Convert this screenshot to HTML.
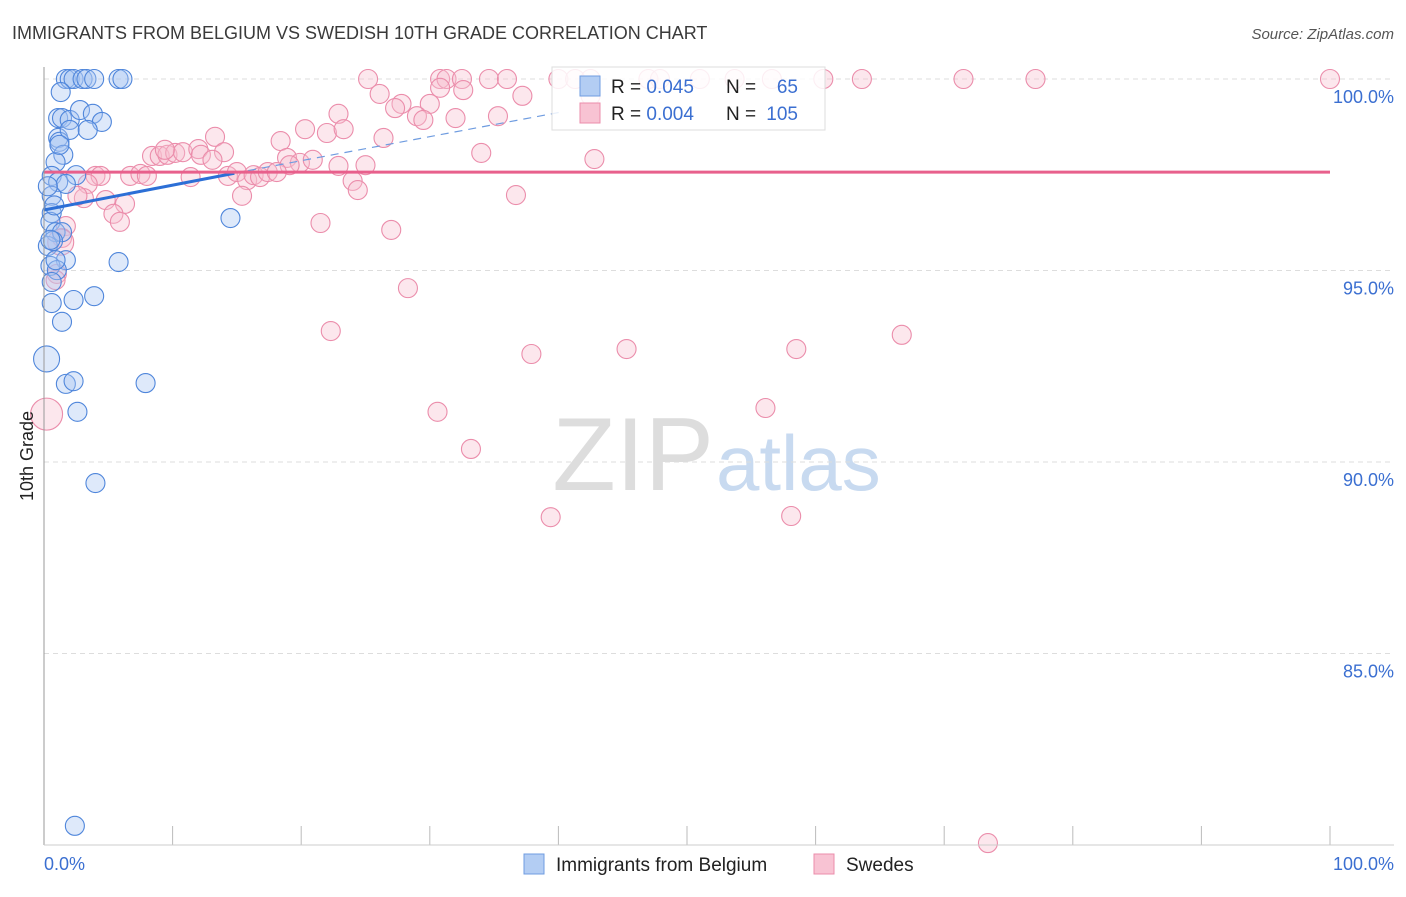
<!DOCTYPE html>
<html><head><meta charset="utf-8"><style>
body{margin:0;background:#fff;font-family:"Liberation Sans",sans-serif}
svg text{font-family:"Liberation Sans",sans-serif}
</style></head><body>
<svg id="chart" width="1406" height="892" viewBox="0 0 1406 892" xmlns="http://www.w3.org/2000/svg">
<text x="12" y="39" font-size="18" fill="#3a3a3a">IMMIGRANTS FROM BELGIUM VS SWEDISH 10TH GRADE CORRELATION CHART</text>
<text x="1394" y="39" font-size="15" fill="#555" text-anchor="end" font-style="italic">Source: ZipAtlas.com</text>
<text x="714" y="490" font-size="104" text-anchor="end" fill="#ddd" font-family="Liberation Serif">ZIP</text>
<text x="716" y="490" font-size="78" fill="#c8daf0">atlas</text>
<g id="grid"></g>
<g id="marks"></g>
<line x1="44" y1="67" x2="44" y2="845" stroke="#999"/>
<line x1="44" y1="845" x2="1394" y2="845" stroke="#ccc"/>
<text transform="translate(33,456) rotate(-90)" font-size="18" fill="#222" text-anchor="middle">10th Grade</text>
<text x="44" y="870" font-size="18" fill="#3b6fd1">0.0%</text>
<text x="1394" y="870" font-size="18" fill="#3b6fd1" text-anchor="end">100.0%</text>
<g>
<rect x="552" y="67" width="273" height="63" fill="#fff" fill-opacity="0.85" stroke="#ddd"/>
<rect x="580" y="76" width="20" height="20" fill="#b3cdf3" stroke="#6f9ce0"/>
<rect x="580" y="103" width="20" height="20" fill="#f8c3d3" stroke="#eb8dab"/>
<text x="611" y="93" font-size="19" fill="#222">R = <tspan fill="#3b6fd1">0.045</tspan></text>
<text x="726" y="93" font-size="19" fill="#222">N = </text><text x="798" y="93" font-size="19" fill="#3b6fd1" text-anchor="end">65</text>
<text x="611" y="120" font-size="19" fill="#222">R = <tspan fill="#3b6fd1">0.004</tspan></text>
<text x="726" y="120" font-size="19" fill="#222">N = </text><text x="798" y="120" font-size="19" fill="#3b6fd1" text-anchor="end">105</text>
</g>
<g>
<rect x="524" y="854" width="20" height="20" fill="#b3cdf3" stroke="#6f9ce0"/>
<text x="556" y="871" font-size="19" fill="#222">Immigrants from Belgium</text>
<rect x="814" y="854" width="20" height="20" fill="#f8c3d3" stroke="#eb8dab"/>
<text x="846" y="871" font-size="19" fill="#222">Swedes</text>
</g>
</svg>
<script>
const yTicks=[100,95,90,85];
const yTickLabels=["100.0%","95.0%","90.0%","85.0%"];
const xTicks=[0,10,20,30,40,50,60,70,80,90,100];
const blueX=[1.7,2.0,2.3,3.0,3.3,3.9,5.8,6.1,1.3,1.1,1.4,2.0,2.8,3.8,4.5,1.1,1.2,2.0,3.4,1.5,0.9,0.6,1.1,2.5,1.7,0.6,0.6,0.5,0.9,1.4,0.3,0.7,1.7,0.5,1.0,0.6,0.6,2.3,3.9,1.4,5.8,14.5,0.2,1.7,2.3,7.9,2.6,4.0,2.4,0.5,0.8,0.3,0.9,1.2];
const blueY=[100,100,100,100,100,100,100,100,99.66,98.98,98.98,98.93,99.19,99.09,98.88,98.46,98.36,98.67,98.67,98.02,97.83,97.47,97.31,97.49,97.26,96.95,96.5,96.27,96.0,96.0,95.64,95.77,95.27,95.12,95.01,94.7,94.15,94.23,94.33,93.66,95.22,96.37,92.69,92.04,92.11,92.06,91.31,89.45,80.5,95.8,96.7,97.2,95.27,98.28];
const blueBig=[42];
const pinkX=[25.2,30.8,31.3,32.5,34.6,36.0,40.0,41.3,42.5,47.0,47.9,51.0,53.7,56.6,60.6,63.6,71.5,77.1,100,26.1,30.8,32.6,37.2,42.5,27.8,30.0,27.3,22.9,29.0,29.5,32.0,35.3,20.3,22.0,23.3,13.3,18.4,26.4,34.0,42.8,8.4,9.0,9.6,10.2,10.8,12.0,12.2,14.0,9.4,13.1,18.9,19.9,20.9,19.1,22.9,25.0,4.0,4.4,6.7,7.5,8.0,11.4,14.3,15.0,15.8,16.3,16.8,17.4,18.1,24.0,24.4,15.4,3.4,3.1,2.6,4.8,6.3,5.4,5.9,1.7,21.5,27.0,36.7,1.4,1.0,28.3,22.3,37.9,45.3,58.5,66.7,30.6,56.1,33.2,39.4,58.1,73.4,0.2,1.3,0.9];
const pinkY=[100,100,100,100,100,100,100,100,100,100,100,100,100,100,100,100,100,100,100,99.61,99.77,99.71,99.56,99.56,99.35,99.35,99.24,99.09,99.03,98.93,98.98,99.03,98.69,98.59,98.69,98.49,98.38,98.46,98.07,97.91,97.99,97.99,98.02,98.07,98.09,98.17,98.02,98.09,98.15,97.89,97.94,97.81,97.89,97.75,97.73,97.75,97.47,97.47,97.47,97.52,97.47,97.44,97.47,97.57,97.36,97.49,97.44,97.57,97.57,97.34,97.1,96.95,97.26,96.89,96.95,96.84,96.74,96.48,96.27,96.16,96.24,96.06,96.97,95.85,94.91,94.54,93.42,92.82,92.95,92.95,93.32,91.31,91.41,90.34,88.56,88.59,80.05,91.25,95.74,94.75];
const pinkBig=[97,98];
const blueTrend=[[0,96.58],[14.8,97.54]];
const blueTrendExt=[[14.8,97.54],[40.1,99.13]];
const pinkTrend=[[0,97.57],[100,97.57]];
const X=v=>44+v*12.86, Y=v=>79+(100-v)*38.3;
const NS="http://www.w3.org/2000/svg";
const grid=document.getElementById('grid'), marks=document.getElementById('marks');
function mk(tag,attrs,parent){const e=document.createElementNS(NS,tag);for(const k in attrs)e.setAttribute(k,attrs[k]);parent.appendChild(e);return e;}
yTicks.forEach((t,i)=>{
 const l=mk('line',{x1:44,x2:1394,y1:Y(t),y2:Y(t),stroke:'#ddd','stroke-dasharray':'5,4'},grid);
 
 
 const tx=mk('text',{x:1394,y:Y(t)+24,'font-size':18,fill:'#3b6fd1','text-anchor':'end'},grid);
 tx.textContent=yTickLabels[i];
 
 
});
xTicks.forEach(t=>{
 const l=mk('line',{x1:X(t),x2:X(t),y1:826,y2:845,stroke:'#bbb'},grid);
 
 
});
function pts(xs,ys,big,fill,stroke,name){
 xs.forEach((x,i)=>{
  const r=big.includes(i)?(name==='swedes-point'&&i===97?16:13):9.5;
  const c=mk('circle',{cx:X(x),cy:Y(ys[i]),r:r,fill:fill,'fill-opacity':0.38,stroke:stroke,'stroke-width':1.1},marks);
  
  
 });
}
pts(pinkX,pinkY,pinkBig,'#f8bfd0','#eb8dab','swedes-point');
pts(blueX,blueY,blueBig,'#a9c6f1','#4f86db','belgium-point');
const l1=mk('line',{x1:X(blueTrend[0][0]),y1:Y(blueTrend[0][1]),x2:X(blueTrend[1][0]),y2:Y(blueTrend[1][1]),stroke:'#2c6fd6','stroke-width':3},marks);


const l2=mk('line',{x1:X(blueTrendExt[0][0]),y1:Y(blueTrendExt[0][1]),x2:X(blueTrendExt[1][0]),y2:Y(blueTrendExt[1][1]),stroke:'#6f9ce0','stroke-width':1.2,'stroke-dasharray':'8,6'},marks);


const l3=mk('line',{x1:X(pinkTrend[0][0]),y1:Y(pinkTrend[0][1]),x2:X(pinkTrend[1][0]),y2:Y(pinkTrend[1][1]),stroke:'#e8608c','stroke-width':3},marks);


</script>
</body></html>
